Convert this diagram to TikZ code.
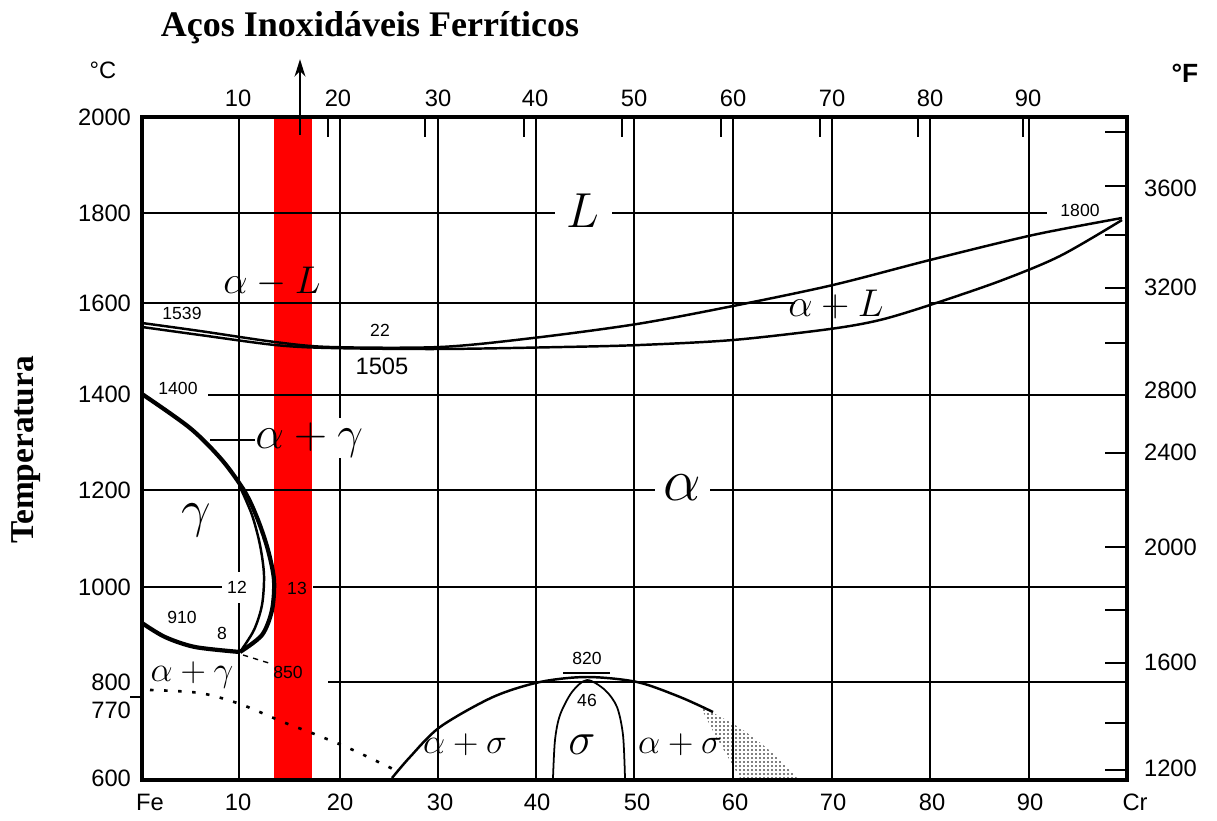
\RequirePackage{fix-cm}
\documentclass[tikz,border=0pt]{standalone}
\usepackage{fontspec}
\setmainfont{Liberation Serif}
\setsansfont{Liberation Sans}
\usetikzlibrary{arrows.meta,patterns}
\pgfdeclarepatternformonly{stip}{\pgfpointorigin}{\pgfpoint{2.2pt}{2.2pt}}{\pgfpoint{2.2pt}{2.2pt}}
  {\pgfpathcircle{\pgfpoint{0.6pt}{0.6pt}}{0.5pt}\pgfusepath{fill}}
\tikzset{
  frm/.style  ={line width=2.2pt},
  grd/.style  ={line width=1.6pt},
  gthin/.style={line width=0.8pt},
  crv/.style  ={line width=1.4pt},
  bcrv/.style ={line width=2.4pt},
  num/.style  ={font=\sffamily\fontsize{13.5}{15}\selectfont, inner sep=1pt},
  sml/.style  ={font=\sffamily\fontsize{10}{11}\selectfont, inner sep=1pt},
  phase/.style={inner sep=0pt},
  arr/.style  ={-{Stealth[length=3.5mm,width=2.2mm]}, line width=0.8pt},
}
\newcommand{\fsz}[1]{\fontsize{#1}{#1}\selectfont}

\begin{document}
\begin{tikzpicture}[x=0.02cm,y=-0.02cm]
\useasboundingbox (0,0) rectangle (1217,821);

% grid
\foreach \gx in {536,634,733,832} \draw[grd] (\gx,117) -- (\gx,780);
\foreach \gx in {438,930,1029} \draw[gthin] (\gx,117) -- (\gx,780);
\draw[grd] (239,117) -- (239,572) (239,603) -- (239,780);
\draw[gthin] (340,117) -- (340,418) (340,458) -- (340,780);
\draw[grd] (142,213) -- (555,213) (612,213) -- (1047,213);
\draw[grd] (142,303) -- (795,303) (930,303) -- (1127,303);
\draw[grd] (208,395) -- (1127,395);
\draw[gthin] (142,490) -- (655,490) (710,490) -- (1127,490);
\draw[grd] (142,587) -- (222,587) (313,587) -- (1127,587);
\draw[grd] (328,682) -- (1127,682);

% ticks
\foreach \tx in {328,425,524,622,721,820,918,1023} \draw[grd] (\tx,117) -- (\tx,137);
\foreach \ty in {132,186,235,288,343,453,547,610,663,723,770} \draw[grd] (1105,\ty) -- (1127,\ty);
\draw[gthin] (130,697) -- (142,697);

\draw[frm] (142,117) rectangle (1127,780);

% liquidus / solidus
\draw[crv] plot[smooth] coordinates {(142,323) (200,331) (275,342) (330,347) (440,347) (533,338) (637,324) (733,306) (833,285) (930,260) (1033,235) (1122,218)};
\draw[crv] plot[smooth] coordinates {(142,327) (200,335) (275,345) (330,348) (440,349) (563,347) (640,345) (733,340) (830,329) (880,320) (930,305) (1000,281) (1060,256) (1122,220)};

% gamma loop
\draw[bcrv] plot[smooth] coordinates {(142,394) (190,428) (222,460) (245,492) (258,520) (268,550) (274,580) (272,610) (262,635) (240,652)};
\draw[crv] plot[smooth] coordinates {(240,487) (252,515) (260,545) (264,575) (262,605) (254,630) (240,652)};
\draw[bcrv] plot[smooth] coordinates {(142,623) (165,637) (195,647) (240,652)};
\draw[dashed, line width=0.8pt] (243,655) -- (272,664);
\draw[line width=1.5pt, dash pattern=on 2pt off 6pt] plot[smooth] coordinates {(150,690) (200,693) (240,704) (283,722) (317,735) (353,750) (395,770)};

% sigma
\draw[crv] plot[smooth] coordinates {(392,778) (410,757) (440,727) (493,697) (540,682) (587,677) (637,682) (680,697) (713,712)};
\fill[pattern=stip] plot[smooth] coordinates {(700,706) (740,728) (775,755) (797,778)} -- (740,778) -- (715,735) -- cycle;
\draw[line width=1pt] plot[smooth] coordinates {(553,778) (555,740) (560,715) (572,692) (587,680) (605,690) (617,707) (623,735) (625,778)};
\draw[line width=1pt] (563,673) -- (610,673);

% labels
\foreach \ty/\t in {117/2000,213/1800,303/1600,394/1400,490/1200,587/1000,682/800,778/600}
  \node[num, anchor=east] (tc\t) at (133,\ty) {\t};
\node[num, anchor=east] (tc770) at (133,710) {770};
\node[num] (degc) at (103,70) {°C};
\node[num, font=\sffamily\bfseries\fontsize{15}{17}\selectfont] (degf) at (1185,73) {°F};
\foreach \tx/\t in {238/10,338/20,438/30,535/40,634/50,733/60,832/70,930/80,1028/90}
  \node[num] (tp\t) at (\tx,98) {\t};
\foreach \tx/\t in {150/Fe,238/10,340/20,440/30,537/40,637/50,735/60,833/70,932/80,1030/90,1135/Cr}
  \node[num] (bt\t) at (\tx,802) {\t};
\foreach \ty/\t in {188/3600,287/3200,390/2800,452/2400,547/2000,662/1600,768/1200}
  \node[num, anchor=west] (tf\t) at (1142,\ty) {\t};

\node[sml] (t1539) at (182,313) {1539};
\node[sml] (t22) at (380,330) {22};
\node[num] (t1505) at (382,366) {1505};
\node[sml] (t1400) at (178,388) {1400};
\node[sml] (t12) at (237,587) {12};
\node[sml] (t13) at (297,588) {13};
\node[sml] (t910) at (182,617) {910};
\node[sml] (t8) at (222,633) {8};
\node[sml] (t850) at (288,672) {850};
\node[sml] (t820) at (587,658) {820};
\node[sml] (t46) at (587,700) {46};
\node[sml] (t1800) at (1080,210) {1800};

\node[phase, font=\fsz{28}] (pL) at (583,211) {$L$};
\node[phase, font=\fsz{22}] (paL) at (272,282) {$\alpha - L$};
\node[phase, font=\fsz{26}, anchor=west] (pag) at (255,440) {$\alpha+\gamma$};
\node[phase, font=\fsz{30}] (pgam) at (196,520) {$\gamma$};
\node[phase, font=\fsz{34}] (pal) at (682,488) {$\alpha$};
\node[phase, font=\fsz{22}] (paL2) at (836,305) {$\alpha+L$};
\node[phase, font=\fsz{20}] (pag2) at (192,675) {$\alpha+\gamma$};
\node[phase, font=\fsz{20}] (pas1) at (465,745) {$\alpha+\sigma$};
\node[phase, font=\fsz{26}] (psig) at (582,745) {$\sigma$};
\node[phase, font=\fsz{20}] (pas2) at (680,745) {$\alpha+\sigma$};
\draw[gthin] (210,440) -- (pag.west);

\node[font=\bfseries\fsz{20.5}] (title) at (370,28) {Aços Inoxidáveis Ferríticos};
\node[font=\bfseries\fsz{19}, rotate=90] (ylab) at (26,450) {Temperatura};

% ferritic band
\begin{scope}[blend mode=multiply]
\fill[red] (274,117) rectangle (312,780);
\end{scope}
\coordinate (arrbase) at (300,135);
\draw[arr, shorten >=5pt] (arrbase) -- (arrbase |- title.south);

\end{tikzpicture}
\end{document}
